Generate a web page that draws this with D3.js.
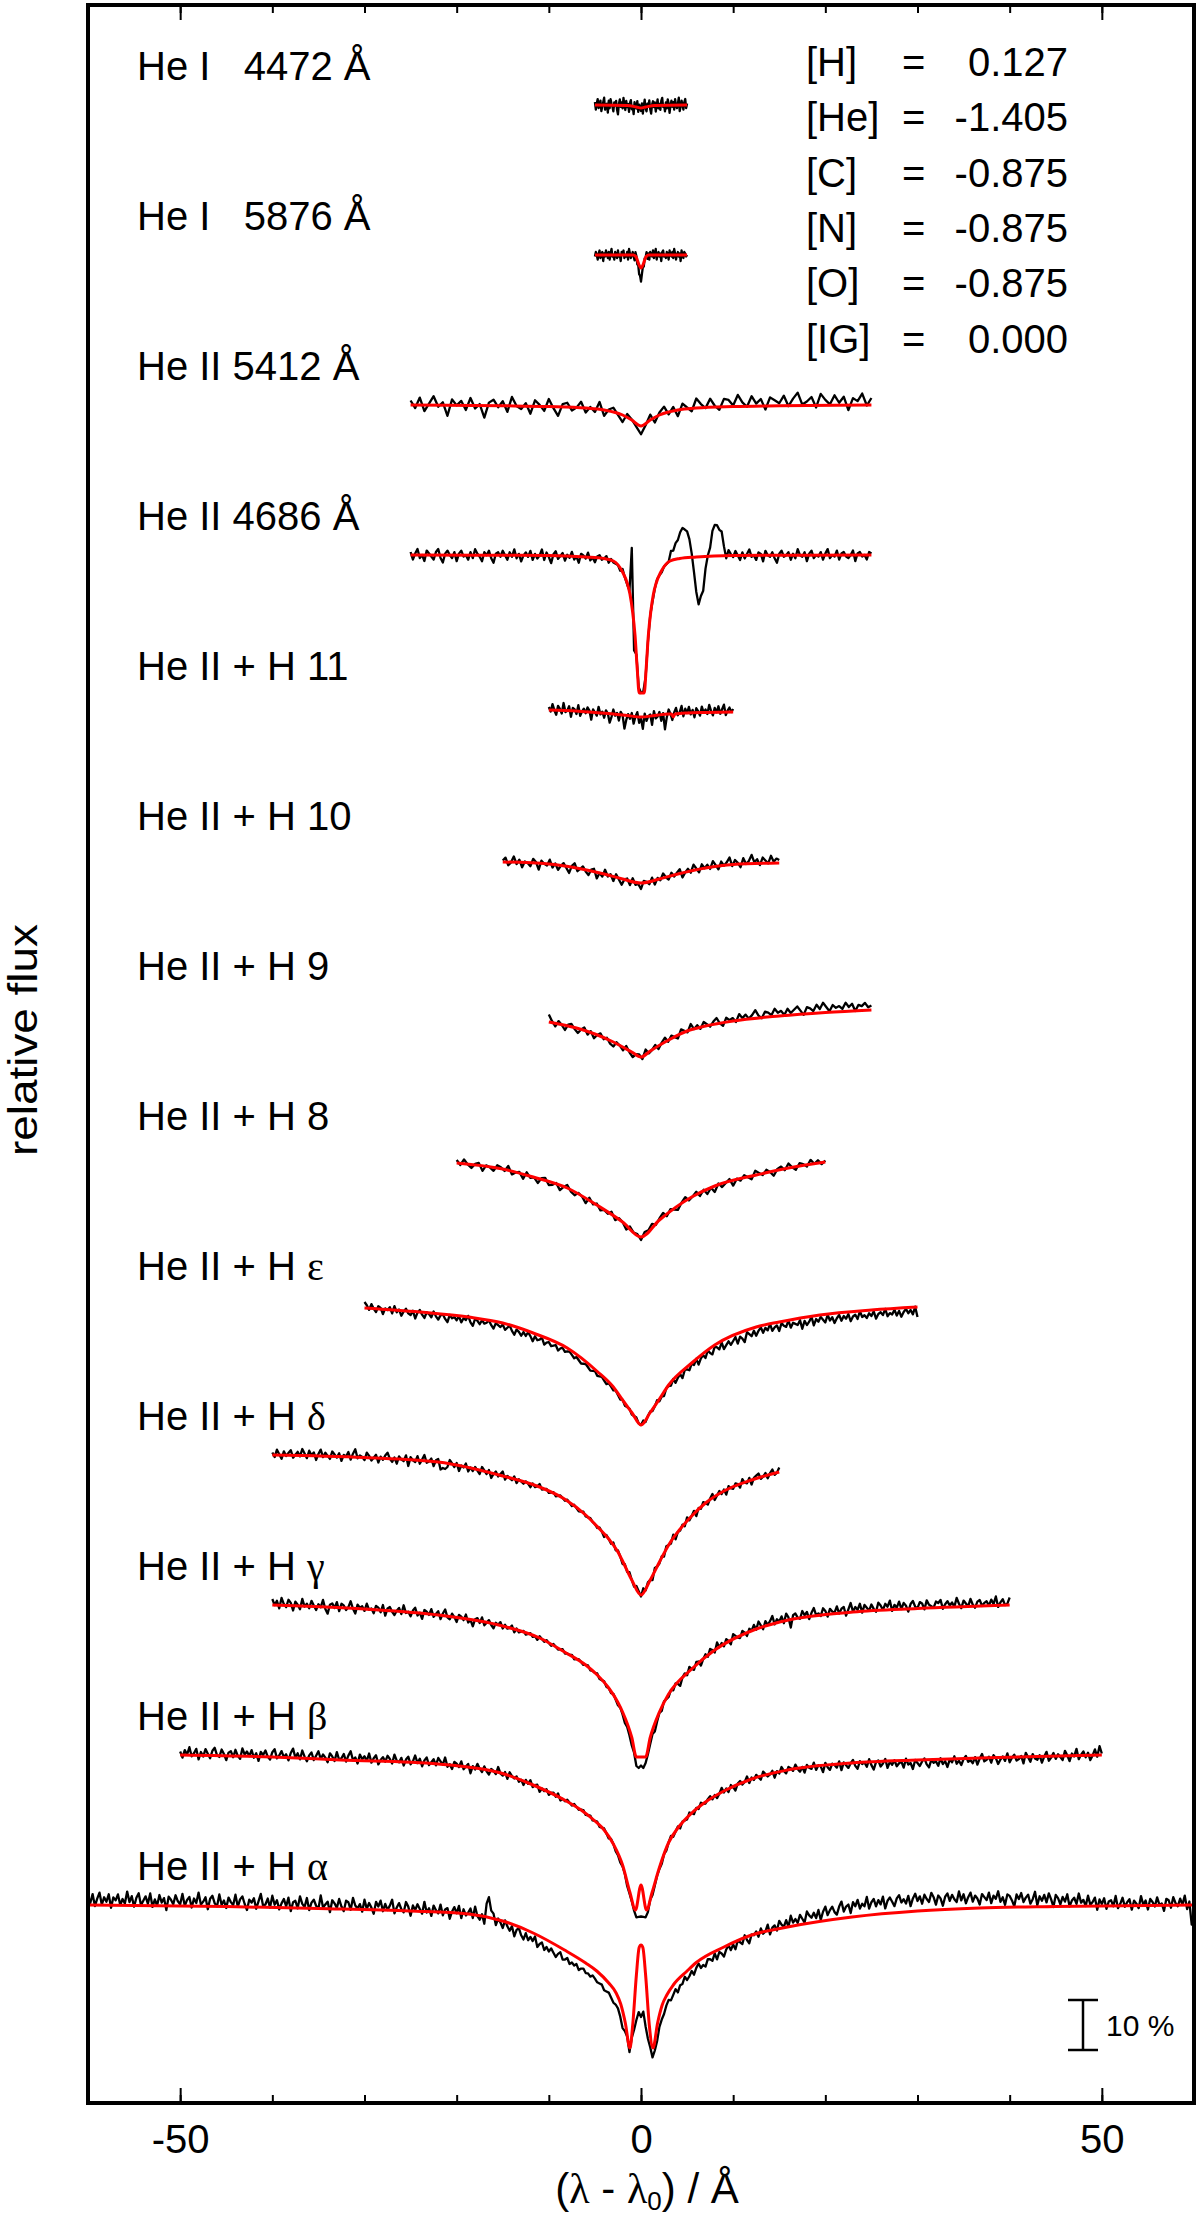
<!DOCTYPE html>
<html lang="en">
<head>
<meta charset="UTF-8">
<title>He and H line profiles</title>
<script src="https://cdn.jsdelivr.net/npm/d3@7"></script>
<style>
  body { margin: 0; background: #fff; }
  svg text { font-family: "Liberation Sans", Arial, Helvetica, sans-serif; fill: #000; }
  svg .greek { font-family: "Liberation Serif", "DejaVu Serif", serif; }
</style>
</head>
<body>
<svg id="chart" width="1200" height="2219"></svg>
<script>
// line labels, top to bottom
const lineLabels = ["He I   4472 Å", "He I   5876 Å", "He II 5412 Å", "He II 4686 Å",
  "He II + H 11", "He II + H 10", "He II + H 9", "He II + H 8",
  "He II + H ε", "He II + H δ", "He II + H γ", "He II + H β", "He II + H α"];

// vertical shift of each spectrum (relative flux)
const lineShifts = [3.6, 3.3, 3.0, 2.7, 2.4, 2.1, 1.8, 1.5, 1.2, 0.9, 0.6, 0.3, 0];

// wavelength window of each spectrum: [from, to, sampling] in Å
const lineWindows = [[-5, 5, 0.1], [-5, 5, 0.1], [-25, 25, 0.5], [-25, 25, 0.25],
  [-10, 10, 0.2], [-15, 15, 0.3], [-10, 25, 0.35], [-20, 20, 0.4],
  [-30, 30, 0.25], [-40, 15, 0.25], [-40, 40, 0.25], [-50, 50, 0.25], [-60, 60, 0.25]];

// model profiles (red): [Δλ in Å, depth in % of continuum]
const model4472 = [[-5,0],[-1.5,0.1],[-0.5,0.4],[0,0.6],[0.5,0.4],[1.5,0.1],[5,0]];
const model5876 = [[-5,0],[-0.8,0],[-0.5,0.5],[-0.25,1.8],[0,2.6],[0.25,1.8],[0.5,0.5],[0.8,0],[5,0]];
const model5412 = [[-25,0],[-15,0.15],[-10,0.3],[-6,0.6],[-4,1.0],[-2,2.0],[-1,3.0],[0,4.2],[1,3.0],[2,2.0],[4,1.0],[6,0.6],[10,0.3],[15,0.15],[25,0]];
const model4686 = [[-25,0],[-15,0.05],[-10,0.1],[-6,0.4],[-4,0.7],[-3,1.2],[-2,3.4],[-1.5,5.6],[-1.2,7.8],[-0.9,11.5],[-0.65,16],[-0.4,23],[-0.2,27.6],
  [0.35,27.6],[0.55,23],[0.8,16],[1.05,11.5],[1.35,7.8],[1.65,5.6],[2.15,3.4],[3.15,1.2],[4.2,0.7],[6,0.4],[10,0.1],[15,0.05],[25,0]];
const modelH11 = [[-10,1.0],[-7,1.2],[-5,1.5],[-3,1.8],[-1.5,2.1],[0,2.4],[1.5,2.1],[3,1.8],[3.3,1.8],[3.5,2.4],[3.7,1.8],[5,1.6],[7,1.5],[10,1.4]];
const modelH10 = [[-15,1.4],[-10,1.8],[-7,2.6],[-4,3.8],[-2,4.8],[0,5.6],[2,4.8],[4,3.8],[7,2.6],[10,1.9],[15,1.6]];
const modelH9 = [[-10,3.4],[-7,4.6],[-5,5.8],[-3,7.4],[-1,9.4],[0,10.4],[1,9.2],[3,7.0],[5,5.2],[7,4.2],[10,3.2],[15,2.2],[20,1.5],[25,1.0]];
const modelH8 = [[-20,1.6],[-15,2.8],[-11.7,4.4],[-8,6.6],[-4.8,10],[-2,13.4],[0,16.4],[2,13],[5.5,8.4],[8,6.2],[12.5,4],[16,2.6],[20,1.4]];
const modelHeps = [[-30,0.6],[-24,1.4],[-18.7,2.4],[-15,3.6],[-11.7,5.6],[-8,8.6],[-4.8,13.2],[-3,16.4],[-2,19],[-1,21.5],[0,24],
  [1,21.5],[2,18.8],[3,16],[5.5,11.6],[8,8],[12.5,4.4],[15,3.4],[19.4,2],[25,1],[30,0.4]];
const modelHdel = [[-40,0],[-30,0.5],[-22,1.4],[-15,4.2],[-11,6.4],[-8.3,8.8],[-6,12],[-4.8,14.2],[-3.5,16.8],[-2.5,19.4],[-2,21.2],[-1,25],[0,28],
  [1,25],[2,21.4],[3,18],[5.5,12.2],[7,9.6],[9,7.2],[12,5],[15,3.4]];
const modelHgam = [[-40,0],[-30,0.8],[-22,2],[-15,4.2],[-11,6.6],[-8.3,9.4],[-6,12],[-4.8,13.9],[-3.5,16.6],[-2.5,19.5],[-2,21.4],[-1,26.5],[-0.5,30.4],
  [0.5,30.4],[1,26.5],[2,21.4],[3,17.8],[5.5,12.8],[8,9],[12.5,4.8],[16,3],[23,1.4],[30,0.7],[40,0]];
const modelHbet = [[-50,0],[-40,0.4],[-32.6,1],[-22,1.8],[-15.2,3.6],[-11.7,6],[-8.3,9],[-6.5,11],[-5,13.2],[-4,15],[-3,17.8],[-2,22],[-1.2,27.5],[-0.6,31],[0,26],
  [0.6,31],[1.2,27.5],[2,22.5],[3,17.5],[4,14.6],[5.5,11.6],[7,9.4],[9,7.2],[12,4.8],[15.9,3],[22.9,1.6],[30,1],[36.7,0.6],[50,0]];
const modelHalp = [[-60,0],[-45,0.3],[-35,0.7],[-25,1.2],[-18.7,1.8],[-15,3.2],[-11.7,5.6],[-8.3,9],[-6,11.6],[-4.8,13.2],[-3.5,15.6],[-2.7,17.6],[-2.2,19.8],[-1.7,23.6],
  [-1.2,28.6],[-0.9,24],[-0.5,14],[-0.2,8.5],[0,8],[0.2,8.5],[0.5,14],[0.9,24],[1.3,28.6],[1.8,23.6],[2.3,20],[2.8,18],[3.5,16],[5,13.2],[6,11.5],
  [9,8.4],[12,6],[15.9,4.4],[22.9,2.4],[30,1.2],[36.7,0.6],[45,0.3],[60,0]];

// systematic observed - model differences (black): [Δλ in Å, % of continuum, positive = above model]
const dev4472 = [[-5,0],[5,0]];
const dev5876 = [[-5,0],[-0.5,0],[0,-1.2],[0.5,0],[5,0]];
const dev5412 = [[-25,0],[-5,0],[5,0.3],[10,0.8],[25,0.8]];
const dev4686 = [[-25,0],[-1.25,0],[-1.0,11.7],[-0.75,-4.6],[-0.5,0],[2.5,0],[3.0,0.5],[3.5,2.2],[4.0,4.4],[4.75,6],[5.25,4],[5.75,-3],
  [6.25,-9.8],[6.75,-6.5],[7.25,0.5],[7.75,4.8],[8.25,6.5],[8.75,4],[9.25,1],[9.75,0],[25,0]];
const devH11 = [[-10,0],[10,0]];
const devH10 = [[-15,0],[15,0]];
const devH9 = [[-10,0],[10,0],[15,0.4],[25,0.6]];
const devH8 = [[-20,0],[20,0]];
const devHeps = [[-30,0],[-20,-0.3],[-12,-0.8],[-5,-0.6],[0,0],[5,-0.4],[10,-0.8],[20,-1.0],[30,-0.8]];
const devHdel = [[-40,0.2],[-22,0],[-21.5,-2.2],[-21,0],[15,0]];
const devHgam = [[-40,0.3],[-3,0],[-1,-1],[-0.5,-1.8],[0,-2],[0.5,-1.8],[1,-1],[3,0],[15,0.2],[25,0.4],[40,0.3]];
const devHbet = [[-50,0.4],[-20,0.3],[-3,0],[-1,-0.6],[-0.5,-2],[0,-6.6],[0.5,-2],[1,-0.6],[3,0],[25,0],[32,-0.4],[42,-0.4],[50,0]];
const devHalp = [[-60,1],[-30,0.8],[-22,0.4],[-17,0.2],[-16.5,4.2],[-16,0.2],[-14,-0.6],[-10,-1.4],[-5,-1.8],[-2.5,-2.5],[-2,-3],[-1.5,-1],
  [-1,-1],[-0.5,-9],[0,-14.4],[0.5,-10],[1,-3],[1.5,-2.5],[2,-2.5],[2.5,-2],[5,-1.2],[10,-0.6],[15,0.4],[20,1.4],[25,2],[35,2],[45,1.4],
  [52,0.4],[59.5,0.4],[60,-4]];

// observed scatter around the profile, one value per sample, in units of noiseUnit
const noiseUnit = 0.3; // % of continuum
const noise4472 = [2,-3,1,4,-2,0,3,-4,-1,2, 5,-3,0,1,-5,3,-2,4,1,-1, -4,2,0,3,-3,-6,1,4,-1,2, -2,5,0,-3,3,-1,1,-4,2,4,
  -2,0,-5,3,1,-1,4,-3,2,0, -2,3,-4,1,5,-1,-3,2,0,4, -2,-5,1,3,-1,2,-4,0,4,-2, 1,-3,3,5,-1,0,-4,2,-2,4,
  1,-5,0,3,-1,2,-3,4,0,-2, 1,5,-4,-1,3,0,-3,2,4,-2, 1];
const noise5876 = [-1,2,0,-3,1,3,-2,0,2,-4, 1,-1,3,0,-2,2,-3,1,4,-1, 0,-3,2,1,-2,3,-1,0,-4,2, 1,3,-2,0,-1,2,-3,4,1,-2,
  0,2,-1,-3,3,1,-2,0,-4,-3, -5,-2,1,-1,2,0,3,-2,1,-3, 2,0,-1,3,-2,1,4,-3,0,2, -1,1,-4,2,3,-1,0,-2,2,1,
  -3,3,0,-1,2,-2,4,1,-3,0, 2,-1,1,-4,3,0,-2,2,1,-1, 0];
const noise5412 = [3,-2,5,-4,1,6,-1,2,-7,4, 0,3,-3,5,-2,1,-8,2,4,-1, 3,-4,6,0,-2,2,-5,4,1,-3, 5,-1,-6,2,3,-2,0,4,-3,1,
  -2,5,-4,1,3,-1,-5,2,0,-3, -6,-2,3,-4,1,4,-2,2,-5,3, 0,-3,5,1,-2,4,-1,-4,3,2, -2,5,0,-3,4,-1,2,-5,3,1,
  -1,4,-3,2,6,-2,0,3,-4,5, 1,-2,4,-1,3,-6,2,0,5,-3, 2];
const noise4686 = [2,-3,1,4,-2,0,-4,3,1,-1, -3,2,4,-2,-5,1,3,0,-2,2, -4,1,3,-1,0,-3,2,-2,4,1, -1,-4,2,0,3,-2,-5,1,2,-1,
  3,0,-3,2,-1,4,-2,1,-4,0, 2,-1,3,-3,1,-2,0,4,-3,2, -1,-5,1,3,-2,0,2,-3,1,-1, 3,-2,0,-4,2,1,-1,3,-2,0,
  -3,1,2,-1,0,2,-2,1,-1,0, 1,-1,2,0,-1,1,0,-1,1,0, 0,1,-1,0,1,-1,0,1,0,-1, 1,0,-1,2,-1,0,-2,1,2,-1,
  1,-1,1,0,-2,1,1,-1,2,-1, -3,1,2,-1,0,3,-2,-5,2,1, -1,3,0,-3,2,-2,1,4,-1,0, -3,2,1,-4,3,0,-1,2,-2,-5,
  1,3,-1,0,2,-3,1,-2,4,0, -1,2,-4,1,3,-2,0,-1,2,-3, 1,4,-2,0,-1,3,-3,1,2,-1, -2,0,3,-4,1,2,-1,0,-3,2, 1];
const noiseH11 = [2,-1,4,0,-3,3,1,-2,5,-1, 0,3,-4,2,1,-2,4,-3,0,2, -1,3,1,-5,2,0,-2,4,-1,1, -3,2,0,-6,-2,3,-1,1,-4,2,
  0,-9,-3,1,-2,2,-5,0,3,-4, -1,-8,2,-3,0,1,-6,3,-2,-1, 2,-4,1,-10,-2,3,0,-3,2,4, -1,1,5,-2,3,0,4,-1,2,-3,
  3,1,-2,4,0,2,-1,5,1,-2, 3,0,4,-1,2,5,-2,1,3,0, 2];
const noiseH10 = [1,3,-2,0,4,-1,2,-3,1,0, -2,3,1,-4,2,0,-1,3,-2,1, -3,0,2,-1,-4,1,3,-2,0,2, -1,-3,1,2,-4,0,-2,3,-1,1,
  -3,2,-1,-4,0,1,-3,2,-2,-1, -4,1,0,-2,2,-3,1,-1,3,0, -2,2,-1,1,3,-3,0,2,-1,4, 1,-2,3,0,2,-1,4,1,-2,3,
  0,2,5,-1,3,1,-2,4,0,2, 6,1,3,-1,4,2,0,5,1,3, 2];
const noiseH9 = [5,1,-2,2,0,-3,1,2,-1,-3, 0,2,-2,1,-3,0,2,-1,1,-2, -3,1,0,-2,2,-1,-3,0,1,-2, 3,-1,0,2,-2,1,3,-1,2,0,
  -2,3,1,-1,4,0,2,-1,3,1, -1,2,4,0,-2,3,1,2,-1,4, 1,3,0,2,5,1,-1,3,2,0, 4,1,2,-1,3,0,2,4,1,-2,
  3,2,0,4,1,5,2,-1,3,1, 2,0,4,1,3,-2,2,1,3,0, 1];
const noiseH8 = [2,-1,3,0,-2,1,2,-3,1,0, -2,2,1,-1,3,-2,0,1,-3,2, -1,0,-3,1,2,-2,-1,1,-3,0, 2,-1,-2,1,0,-3,2,-1,1,-2,
  0,-1,2,-2,1,0,-3,1,-1,0, -2,1,0,2,-1,1,3,-1,2,0, -2,1,3,-1,0,2,-2,1,-3,0, -4,1,-2,0,2,-3,1,-1,2,0,
  -2,3,1,-1,2,0,-3,1,2,-1, 3,0,-2,2,1,-1,3,0,2,-1, 1];
const noiseHeps = [4,2,-1,3,0,-2,2,1,-3,1, 0,2,-2,3,-1,1,-3,0,2,-1, -2,1,-4,0,2,-1,-3,1,0,-2, 2,-1,-3,0,1,-2,-4,1,-1,0,
  -2,1,-3,0,-1,2,-2,-4,1,0, -2,1,-1,0,2,-1,-3,1,0,-1, 1,-2,0,2,-1,-3,1,0,-2,1, -1,2,0,-3,1,-1,0,2,-2,0,
  1,-1,0,1,-2,0,1,-1,0,1, 0,-1,1,0,-1,0,1,0,-1,0, 1,-1,0,1,0,-1,1,0,-1,1, 0,-1,1,-1,0,1,-1,0,1,-1,
  0,1,-2,0,1,-1,0,2,-1,0, -2,1,0,-1,2,-2,0,1,-3,1, 0,-2,1,-1,2,-3,0,1,-2,2, -1,-3,1,0,-2,2,-3,-1,1,-2,
  0,2,-3,1,-1,-4,2,0,-2,1, -3,0,2,-2,1,-1,3,-2,0,1, -3,2,0,-1,3,-2,1,0,-1,2, -4,1,-2,0,3,-3,1,-1,2,0,
  -2,3,-1,1,-3,0,2,-2,1,-1, 2,-3,0,1,-2,3,-1,0,-2,1, -1,2,-3,0,1,-1,3,-2,0,-1, 2,-2,1,-3,0,2,-1,1,-2,3, -4];
const noiseHdel = [1,-2,3,0,-3,2,-1,1,3,-2, 0,2,-1,4,1,-2,3,0,2,-3, 1,4,-1,2,0,-2,3,1,-1,2, -3,1,0,3,-2,2,5,-1,1,0,
  -2,3,1,-2,0,2,-3,1,-1,2, 4,0,-2,1,-3,2,0,-1,3,-4, 2,0,-1,3,-2,1,4,-1,0,2, -3,1,2,-1,4,0,-2,3,1,-1,
  2,-3,1,0,3,-2,1,-1,2,0, -2,3,1,-1,2,-3,0,2,-1,1, 3,-2,1,0,-1,2,-2,1,0,-1, 1,0,-2,1,-1,0,2,-1,0,1,
  -1,0,1,-1,0,1,0,-1,1,0, -1,1,0,-1,0,1,-1,0,1,0, 0,-1,1,0,-2,1,0,-1,2,-1, 1,0,-2,1,-1,2,0,-2,1,0,
  -1,2,-2,1,0,-3,2,0,-1,1, -2,2,0,-1,3,-2,1,0,2,-1, 3,-1,0,2,-3,1,-1,2,0,-2, 1,3,-2,0,2,-1,1,-3,2,0,
  -1,2,1,-2,3,0,-1,2,-3,1, 2,3,-1,0,2,-2,1,3,-1,0, 3];
const noiseHgam = [3,-1,2,-3,4,0,-2,3,1,-4, 2,0,-3,4,-1,1,-2,3,0,-3, 1,-1,4,-2,-5,1,2,-1,3,-3, 2,1,-2,0,4,-1,-4,2,0,1,
  -2,3,-1,0,-3,2,1,-2,3,-4, 1,2,-1,-3,0,2,-2,4,-1,0, -3,1,3,-2,0,-4,2,1,-1,3, -2,0,2,-3,1,4,-1,-2,2,0,
  -3,2,1,-1,3,-2,0,-4,1,2, -1,3,-2,0,2,-1,-3,1,0,2, -2,1,-1,0,2,-2,1,-1,0,1, -1,0,1,-1,0,-2,1,0,-1,1,
  0,-1,1,0,-1,0,1,-1,0,0, 1,-1,0,1,0,-1,0,1,-1,0, 0,1,-1,0,1,-1,0,-1,1,0, -1,1,0,-1,1,0,-2,1,0,-1,
  1,-1,2,0,-1,1,-2,0,1,-1, 2,0,-2,1,-1,2,0,-3,1,2, -1,3,0,-2,2,1,-3,0,2,-1, 3,1,-2,4,0,2,-1,3,1,-2,
  4,2,0,-1,3,1,-2,2,0,3, -1,4,1,-2,3,0,2,5,-1,2, 0,3,-2,4,1,-6,2,3,0,-1, 4,1,3,-2,2,5,0,1,-1,4,
  2,-2,3,1,0,4,-1,2,3,-3, 1,5,-1,2,0,4,-2,3,1,-1, 3,0,-2,4,2,-1,3,1,5,-2, 2,0,4,-1,3,1,-3,2,4,0,
  -1,3,2,-2,4,1,0,-1,3,2, 4,-2,1,3,0,2,-1,5,1,-2, 3,1,-1,4,0,-2,2,3,-1,1, 2,-1,3,0,5,-2,1,3,-1,0, 4];
const noiseHbet = [1,-3,2,-1,4,-2,0,3,-4,1, -2,3,0,-3,2,4,-1,-2,3,0, -4,1,2,-2,3,-1,-3,4,0,2, -1,3,-2,1,-4,2,0,3,-1,-3,
  2,4,-2,0,3,-1,1,-3,2,5, -1,2,-2,4,0,-3,1,3,-2,1, 4,-1,2,0,-3,3,1,-2,4,-1, 0,3,-2,2,5,-1,1,-3,3,0,
  2,-1,4,-2,1,3,-3,0,2,-1, 3,1,-2,4,0,-1,2,-3,1,3, -2,0,4,-1,2,-3,1,3,-2,0, 2,-2,3,1,-1,4,-2,0,-3,2,
  1,-1,3,-2,0,2,-4,1,-1,3, 0,-2,2,-1,-3,1,0,-2,3,-1, -2,1,-3,2,0,-1,1,-2,0,-3, 1,-1,2,-2,0,1,-3,0,-1,1,
  -2,0,1,-1,2,-2,0,-1,1,0, -1,1,0,-1,0,1,-1,0,1,-1, 0,1,-1,0,1,0,-1,1,0,-1, 0,-1,0,1,-1,0,0,1,-1,0,
  1,0,-1,0,1,-1,0,1,0,-1, 1,-1,0,2,-1,0,1,-2,1,0, -1,2,0,-2,1,-1,2,0,-1,1, 2,-1,1,-2,0,3,-1,1,-2,2,
  0,-3,1,2,-1,0,3,-2,1,-1, 2,0,-2,3,1,-1,0,2,-3,1, -1,3,0,-2,2,1,-1,3,0,-2, 1,-3,2,0,-1,3,-2,1,0,-4,
  2,-1,-3,1,0,-2,2,-4,1,-1, -3,0,2,-2,-4,1,-1,0,-3,2, -2,-5,0,1,-3,-1,2,-4,0,-2, 1,-3,-1,0,-4,2,-2,-1,-5,1,
  -1,-3,0,2,-2,-4,1,-1,0,-3, 2,-2,0,-4,1,-1,3,-2,0,-3, 1,3,-1,0,-2,2,-3,1,4,-1, 0,2,-2,3,1,-3,0,2,-1,4,
  -2,1,3,-1,0,2,-3,4,1,-2, 3,0,-1,2,-3,1,4,-2,0,3, -1,2,0,-2,4,1,-3,2,0,5, -2,1,3,-1,2,-3,0,4,-1,6, 1];
const noiseHalp = [3,-2,4,-4,1,5,-3,2,-1,4, -5,2,0,4,-3,1,-2,6,-1,3, -4,2,5,-3,0,3,-2,5,-4,1, -3,4,-1,2,-6,3,1,-2,4,0,
  -2,5,-3,1,3,-4,2,-1,6,-2, 0,3,-5,2,4,-1,-3,5,-2,1, -4,3,0,-2,5,-3,2,4,-1,-5, 2,0,3,-4,1,6,-2,-1,3,-3,
  5,-1,2,-4,0,3,-2,4,-5,1, 2,-3,5,0,-2,4,-4,1,3,-1, -3,6,-2,0,2,-5,3,1,-2,4, -1,-4,3,2,-3,5,0,-2,1,-4,
  4,-2,2,-1,-5,3,0,4,-3,2, -2,1,5,-4,0,3,-1,-3,4,1, -5,2,-1,3,0,-3,5,-2,1,-4, 3,0,-2,4,-3,1,2,-5,0,3,
  -1,4,-4,2,-2,0,3,-3,5,-1, -3,1,-5,2,0,-2,3,-4,1,-1, -4,2,-1,-3,1,-5,0,2,-2,-4, 1,-3,0,-2,2,-4,-1,1,-3,0,
  -2,1,-1,-3,0,2,-2,-1,1,-2, 0,-1,1,-2,0,1,-1,0,-1,1, 0,-1,0,1,-1,0,1,0,-1,0, 1,0,-1,0,1,-1,0,1,0,-1,
  0,1,-1,0,-1,1,0,-2,1,-1, -2,0,1,-2,-1,1,-3,0,-1,2, -2,-1,1,-3,0,2,-2,-1,-3,1, 0,-2,2,-3,1,-1,-4,0,2,-2,
  1,-3,2,0,-2,3,-1,-4,1,0, 2,-2,3,-1,0,4,-3,1,2,-2, 4,1,-1,3,-2,5,0,2,-1,4, 1,-2,5,2,0,3,-1,4,-3,2,
  5,-1,2,4,0,-2,3,6,-1,2, 3,-3,4,1,5,-1,2,0,6,-2, 2,4,-1,3,0,5,-3,2,4,1, -2,3,5,0,2,-1,4,-3,2,5,
  0,3,-2,4,1,-1,5,2,-3,3, 1,-4,2,4,-1,3,0,-2,5,-1, 3,-3,1,4,-2,2,0,-4,3,1, -1,4,-3,2,0,5,-2,1,-4,3,
  2,-1,-5,3,0,4,-2,1,3,-3, 0,5,-4,2,-1,3,-2,4,0,-5, 3,1,-3,2,-1,4,-4,0,2,-2, 5,-1,1,-3,4,-2,0,3,-5,2,
  -1,3,-4,1,2,-2,5,-3,0,4, -2,1,3,-4,2,0,-3,5,-1,2, -4,3,1,-2,4,-1,0,-5,3,2, -3,4,0,-2,3,-1,5,-4,1,-7, 2];

const lineModels = [model4472, model5876, model5412, model4686, modelH11, modelH10, modelH9, modelH8, modelHeps, modelHdel, modelHgam, modelHbet, modelHalp];
const lineDevs = [dev4472, dev5876, dev5412, dev4686, devH11, devH10, devH9, devH8, devHeps, devHdel, devHgam, devHbet, devHalp];
const lineNoise = [noise4472, noise5876, noise5412, noise4686, noiseH11, noiseH10, noiseH9, noiseH8, noiseHeps, noiseHdel, noiseHgam, noiseHbet, noiseHalp];

// abundance table
const abundNames = ["[H]", "[He]", "[C]", "[N]", "[O]", "[IG]"];
const abundValues = ["0.127", "-1.405", "-0.875", "-0.875", "-0.875", "0.000"];

// x ticks
const xMajorTicks = [-50, 0, 50];
const xMinorTicks = [-50, -40, -30, -20, -10, 0, 10, 20, 30, 40, 50];

const svg = d3.select("#chart");
const frameL = 88, frameR = 1194, frameT = 5, frameB = 2103;

const x = d3.scaleLinear().domain([-60, 60]).range([frameL, frameR]);
const y = d3.scaleLinear().domain([0.604, 4.8]).range([frameB, frameT]);

const spectra = lineLabels.map((label, i) => ({
  label: label,
  shift: lineShifts[i],
  win: lineWindows[i],
  model: lineModels[i],
  dev: lineDevs[i],
  noise: lineNoise[i]
}));

const plot = svg.append("g");

spectra.forEach(s => {
  const yOf = depth => y(1 + s.shift - depth / 100);
  const prof = d3.scaleLinear().domain(s.model.map(p => p[0])).range(s.model.map(p => p[1])).clamp(true);
  const dev = d3.scaleLinear().domain(s.dev.map(p => p[0])).range(s.dev.map(p => p[1])).clamp(true);
  const [lo, hi, step] = s.win;
  const n = Math.round((hi - lo) / step);
  const obs = d3.range(n + 1).map(i => {
    const lam = lo + i * step;
    return [lam, prof(lam) - dev(lam) - (s.noise[i] || 0) * noiseUnit];
  });

  plot.append("path")
    .attr("d", d3.line().x(p => x(p[0])).y(p => yOf(p[1]))(obs))
    .attr("fill", "none")
    .attr("stroke", "#000")
    .attr("stroke-width", 2.3)
    .attr("stroke-linejoin", "round");

  plot.append("path")
    .attr("d", d3.line().x(p => x(p[0])).y(p => yOf(p[1])).curve(d3.curveMonotoneX)(s.model))
    .attr("fill", "none")
    .attr("stroke", "#ff0000")
    .attr("stroke-width", 3)
    .attr("stroke-linejoin", "round");
});

// line labels
svg.append("g").selectAll("text")
  .data(spectra)
  .join("text")
  .attr("x", 137)
  .attr("y", d => y(1 + d.shift) - 25)
  .attr("font-size", 40)
  .style("white-space", "pre")
  .each(function(d) {
    const t = d3.select(this);
    const m = d.label.match(/^(.*)([α-ω])$/);
    if (m) {
      t.append("tspan").text(m[1]);
      t.append("tspan").attr("class", "greek").text(m[2]);
    } else {
      t.text(d.label);
    }
  });

// abundances
const tab = svg.append("g").attr("font-size", 40);
tab.selectAll(".nm").data(abundNames).join("text")
  .attr("class", "nm").attr("x", 806).attr("y", (d, i) => 76 + i * 55.3).text(d => d);
tab.selectAll(".eq").data(abundNames).join("text")
  .attr("class", "eq").attr("x", 902).attr("y", (d, i) => 76 + i * 55.3).text("=");
tab.selectAll(".vl").data(abundValues).join("text")
  .attr("class", "vl").attr("x", 1068).attr("y", (d, i) => 76 + i * 55.3)
  .attr("text-anchor", "end").text(d => d);

// axes
function styleAxis(g) {
  g.select(".domain").remove();
  g.selectAll(".tick line").attr("stroke", "#000").attr("stroke-width", 2);
  g.selectAll(".tick text").attr("font-size", 40).attr("font-family", "Liberation Sans, Arial, sans-serif");
}
svg.append("g").attr("transform", `translate(0,${frameB})`)
  .call(d3.axisBottom(x).tickValues(xMinorTicks).tickSize(-8).tickFormat(""))
  .call(styleAxis);
svg.append("g").attr("transform", `translate(0,${frameB})`)
  .call(d3.axisBottom(x).tickValues(xMajorTicks).tickSize(-15).tickPadding(22).tickFormat(d => String(d)))
  .call(styleAxis);
svg.append("g").attr("transform", `translate(0,${frameT})`)
  .call(d3.axisTop(x).tickValues(xMinorTicks).tickSize(-8).tickFormat(""))
  .call(styleAxis);
svg.append("g").attr("transform", `translate(0,${frameT})`)
  .call(d3.axisTop(x).tickValues(xMajorTicks).tickSize(-15).tickFormat(""))
  .call(styleAxis);

// frame
svg.append("rect")
  .attr("x", frameL).attr("y", frameT)
  .attr("width", frameR - frameL).attr("height", frameB - frameT)
  .attr("fill", "none").attr("stroke", "#000").attr("stroke-width", 4);

// axis titles
const xt = svg.append("text")
  .attr("x", 647).attr("y", 2203)
  .attr("text-anchor", "middle")
  .attr("font-size", 42)
  .style("white-space", "pre");
xt.append("tspan").text("(");
xt.append("tspan").attr("class", "greek").text("λ");
xt.append("tspan").text(" - ");
xt.append("tspan").attr("class", "greek").text("λ");
xt.append("tspan").attr("dy", 7).attr("font-size", 26).text("0");
xt.append("tspan").attr("dy", -7).text(") / Å");

svg.append("text")
  .attr("transform", "translate(37,1040) rotate(-90)")
  .attr("text-anchor", "middle")
  .attr("font-size", 40)
  .attr("textLength", 232)
  .attr("lengthAdjust", "spacingAndGlyphs")
  .text("relative flux");

// 10 % scale bar
const barX = 1083, barLow = 0.71, barLen = 0.10;
const bar = svg.append("g").attr("stroke", "#000").attr("stroke-width", 2.5);
bar.append("line").attr("x1", barX).attr("x2", barX).attr("y1", y(barLow)).attr("y2", y(barLow + barLen));
bar.append("line").attr("x1", barX - 15).attr("x2", barX + 15).attr("y1", y(barLow)).attr("y2", y(barLow));
bar.append("line").attr("x1", barX - 15).attr("x2", barX + 15).attr("y1", y(barLow + barLen)).attr("y2", y(barLow + barLen));
svg.append("text")
  .attr("x", 1106).attr("y", y(barLow + barLen / 2) + 11)
  .attr("font-size", 30)
  .style("white-space", "pre")
  .text("10 %");
</script>
</body>
</html>
